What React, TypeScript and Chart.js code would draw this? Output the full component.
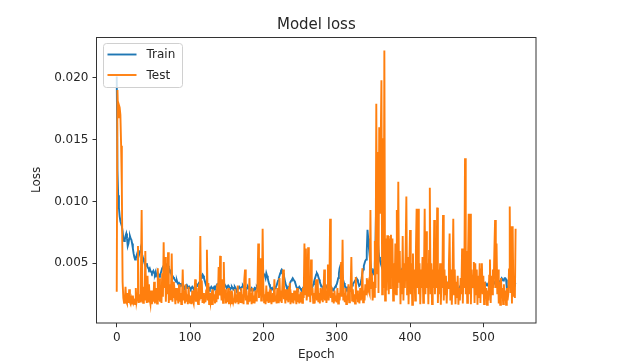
import React, { useEffect, useRef } from "react";
import { Chart, registerables } from "chart.js";

Chart.register(...registerables);

const FONT = "'DejaVu Sans', 'Liberation Sans', sans-serif";
const TEXT_COLOR = "#262626";

const chartTitle = "Model loss";
const xAxisTitle = "Epoch";
const yAxisTitle = "Loss";
const seriesNames = ["Train", "Test"];
const seriesColors = ["#1f77b4", "#ff7f0e"];

const xTickValues = [0, 100, 200, 300, 400, 500];
const yTickValues = [0.005, 0.01, 0.015, 0.02];

// Loss values in units of 1e-5 (e.g. 190 = 0.0019), one per epoch.
const trainLossE5 = [
  2010, 1250, 1050, 950, 880, 840, 820, 800, 760, 700,
  680, 690, 720, 740, 700, 640, 660, 700, 720, 700,
  690, 660, 620, 580, 550, 530, 540, 560, 580, 570,
  560, 580, 600, 610, 590, 560, 540, 520, 500, 490,
  480, 500, 470, 460, 450, 460, 440, 430, 420, 430,
  440, 420, 410, 430, 400, 410, 420, 400, 390, 410,
  420, 440, 460, 470, 480, 490, 500, 490, 480, 470,
  480, 460, 450, 440, 420, 410, 400, 390, 380, 370,
  360, 350, 360, 340, 330, 340, 330, 320, 330, 320,
  310, 320, 310, 300, 310, 320, 300, 310, 300, 310,
  300, 290, 300, 310, 300, 290, 300, 310, 320, 330,
  320, 330, 340, 350, 360, 380, 400, 410, 400, 380,
  360, 340, 320, 310, 300, 310, 300, 290, 300, 310,
  300, 290, 300, 310, 300, 310, 320, 330, 320, 310,
  320, 330, 320, 310, 320, 330, 340, 330, 320, 310,
  300, 310, 320, 310, 300, 290, 300, 310, 300, 290,
  300, 310, 300, 290, 280, 290, 300, 310, 300, 290,
  300, 310, 320, 310, 300, 310, 300, 290, 300, 310,
  300, 290, 280, 290, 300, 290, 280, 290, 300, 290,
  300, 310, 300, 290, 300, 320, 340, 360, 380, 400,
  420, 410, 400, 380, 420, 400, 380, 350, 330, 310,
  300, 290, 300, 290, 280, 290, 300, 310, 320, 340,
  360, 380, 400, 420, 440, 450, 440, 420, 400, 370,
  340, 320, 300, 290, 300, 310, 330, 350, 360, 370,
  380, 370, 360, 350, 330, 310, 300, 290, 300, 310,
  300, 290, 280, 290, 300, 310, 300, 290, 280, 290,
  300, 290, 300, 310, 300, 290, 300, 310, 330, 350,
  370, 390, 410, 420, 410, 390, 370, 350, 330, 320,
  310, 300, 310, 320, 330, 320, 310, 300, 290, 300,
  310, 320, 310, 300, 290, 280, 290, 300, 310, 320,
  330, 350, 380, 420, 460, 480, 470, 430, 390, 360,
  340, 320, 310, 300, 290, 300, 310, 300, 290, 300,
  310, 320, 330, 340, 350, 360, 370, 380, 370, 350,
  330, 320, 330, 350, 380, 420, 450, 480, 500, 520,
  530, 600, 770, 700, 620, 560, 500, 460, 440, 430,
  420, 450, 500, 700, 1050, 900, 700, 600, 550, 520,
  500, 480, 520, 560, 600, 580, 550, 520, 500, 480,
  470, 460, 450, 460, 470, 460, 450, 440, 430, 440,
  450, 460, 470, 460, 450, 440, 430, 420, 430, 440,
  430, 420, 410, 420, 430, 440, 430, 420, 410, 400,
  410, 420, 410, 400, 390, 400, 410, 400, 390, 380,
  390, 400, 390, 380, 370, 360, 350, 360, 370, 380,
  390, 400, 390, 380, 370, 380, 390, 400, 390, 380,
  370, 360, 350, 360, 370, 360, 350, 340, 350, 360,
  350, 340, 330, 340, 350, 360, 350, 340, 330, 320,
  330, 340, 330, 320, 310, 320, 330, 340, 350, 340,
  330, 320, 310, 300, 290, 280, 290, 300, 310, 320,
  330, 340, 350, 360, 350, 340, 330, 320, 330, 340,
  350, 360, 370, 360, 350, 340, 330, 320, 330, 340,
  330, 320, 310, 320, 330, 340, 330, 320, 310, 300,
  310, 320, 330, 340, 330, 320, 330, 340, 330, 320,
  310, 300, 310, 320, 330, 340, 350, 340, 330, 320,
  330, 340, 350, 360, 370, 380, 370, 360, 370, 380,
  380, 370, 300, 310, 300, 310, 320, 330, 340, 330,
  320, 310, 320, 330, 340,
];

const testLossE5 = [
  270, 1900, 1680, 1780, 1760, 1700, 1450, 1100, 350, 220,
  180, 200, 310, 190, 175, 260, 180, 290, 185, 170,
  210, 175, 240, 180, 195, 170, 300, 185, 220, 640,
  180, 250, 190, 420, 930, 230, 180, 310, 200, 600,
  250, 180, 400, 190, 330, 210, 170, 280, 170, 260,
  190, 350, 175, 240, 300, 175, 460, 200, 380, 190,
  270, 180, 420, 230, 670, 300, 550, 190, 400, 250,
  590, 180, 330, 210, 280, 580, 190, 350, 220, 260,
  170, 300, 200, 240, 175, 330, 190, 260, 170, 210,
  450, 200, 280, 175, 330, 190, 250, 170, 310, 200,
  180, 240, 170, 280, 200, 175, 260, 370, 190, 300,
  210, 170, 330, 200, 720, 220, 360, 180, 260, 175,
  240, 185, 280, 610, 200, 340, 170, 260, 185, 230,
  170, 290, 200, 250, 175, 280, 185, 330, 210, 470,
  240, 560, 300, 200, 370, 180, 510, 230, 290, 175,
  260, 185, 300, 170, 240, 200, 280, 170, 230, 185,
  210, 290, 175, 250, 185, 320, 170, 230, 270, 180,
  300, 185, 250, 170, 370, 450, 200, 280, 175, 240,
  185, 380, 200, 260, 170, 300, 185, 240, 175, 280,
  200, 250, 330, 660, 220, 300, 540, 200, 260, 780,
  300, 185, 250, 170, 320, 200, 270, 180, 240, 185,
  290, 170, 220, 260, 185, 370, 200, 240, 175, 300,
  185, 260, 380, 200, 280, 180, 330, 450, 210, 250,
  175, 290, 200, 240, 185, 300, 340, 170, 230, 185,
  260, 175, 280, 200, 230, 170, 300, 185, 250, 175,
  230, 185, 270, 180, 300, 220, 660, 250, 620, 200,
  280, 630, 230, 350, 185, 530, 240, 300, 180, 260,
  175, 290, 370, 200, 370, 185, 260, 175, 300, 200,
  250, 185, 280, 450, 200, 330, 180, 260, 490, 200,
  300, 860, 220, 310, 185, 260, 175, 280, 200, 240,
  185, 300, 175, 260, 200, 280, 510, 230, 690, 200,
  260, 185, 300, 170, 240, 200, 330, 185, 270, 300,
  550, 200, 290, 185, 250, 175, 390, 210, 280, 185,
  240, 175, 300, 200, 260, 460, 185, 280, 200, 330,
  250, 380, 290, 330, 270, 250, 930, 300, 420, 200,
  350, 230, 680, 300, 1790, 420, 1400, 260, 1600, 900,
  1450, 1980, 250, 1510, 300, 2220, 200, 700, 280, 720,
  720, 250, 700, 300, 730, 400, 700, 200, 500, 250,
  660, 250, 930, 300, 1160, 350, 600, 170, 450, 250,
  720, 200, 500, 300, 600, 1040, 250, 550, 170, 450,
  770, 250, 500, 165, 580, 300, 450, 200, 600, 940,
  300, 940, 250, 500, 170, 450, 300, 550, 180, 400,
  940, 250, 760, 300, 500, 170, 600, 1110, 250, 500,
  170, 450, 300, 850, 250, 500, 300, 950, 180, 450,
  250, 500, 165, 400, 300, 890, 200, 450, 250, 400,
  175, 350, 300, 490, 740, 200, 450, 165, 400, 860,
  250, 450, 170, 350, 220, 400, 165, 300, 200, 380,
  250, 620, 175, 500, 300, 1350, 250, 600, 180, 500,
  900, 250, 900, 170, 450, 300, 400, 510, 180, 500,
  250, 450, 165, 400, 220, 500, 180, 450, 500, 250,
  400, 170, 350, 220, 300, 165, 280, 200, 400, 530,
  180, 400, 250, 450, 300, 600, 850, 300, 660, 250,
  450, 175, 350, 165, 380, 250, 300, 170, 330, 200,
  280, 165, 300, 200, 250, 450, 960, 260, 800, 175,
  800, 230, 300, 220, 780,
];

const epochs = trainLossE5.map((_, i) => i);

const framePlugin = {
  id: "frame",
  afterDraw(chart: any) {
    const { ctx, chartArea } = chart;
    ctx.save();
    ctx.strokeStyle = "#333";
    ctx.lineWidth = 1;
    ctx.strokeRect(
      Math.round(chartArea.left) - 0.5,
      Math.round(chartArea.top) + 0.5,
      Math.round(chartArea.right) - Math.round(chartArea.left) + 0.5,
      Math.round(chartArea.bottom) - Math.round(chartArea.top) - 0.5
    );
    ctx.restore();
  },
};

const legendPlugin = {
  id: "mplLegend",
  afterDatasetsDraw(chart: any) {
    const { ctx, chartArea } = chart;
    const x0 = chartArea.left + 6.5;
    const y0 = chartArea.top + 6.5;
    const w = 79;
    const h = 44;
    ctx.save();
    ctx.beginPath();
    if ((ctx as any).roundRect) {
      (ctx as any).roundRect(x0, y0, w, h, 3);
    } else {
      ctx.rect(x0, y0, w, h);
    }
    ctx.fillStyle = "rgba(255,255,255,0.8)";
    ctx.fill();
    ctx.strokeStyle = "#d0d0d0";
    ctx.lineWidth = 1;
    ctx.stroke();
    ctx.font = `12px ${FONT}`;
    ctx.textBaseline = "middle";
    ctx.textAlign = "left";
    seriesNames.forEach((name, i) => {
      const yy = y0 + 11 + i * 20.5;
      ctx.beginPath();
      ctx.moveTo(x0 + 4, yy);
      ctx.lineTo(x0 + 33, yy);
      ctx.strokeStyle = seriesColors[i];
      ctx.lineWidth = 1.9;
      ctx.stroke();
      ctx.fillStyle = TEXT_COLOR;
      ctx.fillText(name, x0 + 43, yy + 0.5);
    });
    ctx.restore();
  },
};

export default function App() {
  const canvasRef = useRef<HTMLCanvasElement | null>(null);

  useEffect(() => {
    const canvas = canvasRef.current;
    if (!canvas) return;
    const trainData = epochs.map((e, i) => ({ x: e, y: trainLossE5[i] / 1e5 }));
    const testData = epochs.map((e, i) => ({ x: e, y: testLossE5[i] / 1e5 }));
    const tickFont = { family: FONT, size: 12 };
    const chart = new Chart(canvas, {
      type: "line",
      data: {
        datasets: [
          {
            label: seriesNames[0],
            data: trainData,
            borderColor: seriesColors[0],
            backgroundColor: seriesColors[0],
            borderWidth: 1.9,
            pointRadius: 0,
            tension: 0,
            order: 2,
          },
          {
            label: seriesNames[1],
            data: testData,
            borderColor: seriesColors[1],
            backgroundColor: seriesColors[1],
            borderWidth: 1.9,
            pointRadius: 0,
            tension: 0,
            order: 1,
          },
        ],
      },
      options: {
        animation: false,
        responsive: false,
        maintainAspectRatio: false,
        devicePixelRatio: 1,
        events: [],
        layout: { padding: { left: 0, right: 92.3, top: 0, bottom: 0 } },
        plugins: {
          legend: { display: false },
          tooltip: { enabled: false },
          title: {
            display: true,
            text: chartTitle,
            fullSize: false,
            color: TEXT_COLOR,
            font: { family: FONT, size: 15, weight: "normal" },
            padding: { top: 15.8, bottom: 3.2 },
          },
        },
        scales: {
          x: {
            type: "linear",
            min: -26.9,
            max: 571.4,
            afterBuildTicks: (s: any) => {
              s.ticks = xTickValues.map((v) => ({ value: v }));
            },
            afterFit: (s: any) => {
              s.height = 39.3;
            },
            ticks: {
              font: tickFont,
              color: TEXT_COLOR,
              padding: 3,
              maxRotation: 0,
              autoSkip: false,
              callback: (v: any) => String(v),
            },
            grid: {
              display: true,
              drawOnChartArea: false,
              drawTicks: true,
              tickLength: 4.5,
              color: "#333",
              lineWidth: 1,
            },
            border: { display: false },
            title: {
              display: true,
              text: xAxisTitle,
              color: TEXT_COLOR,
              font: { family: FONT, size: 12 },
              padding: { top: 0, bottom: 0 },
            },
          },
          y: {
            type: "linear",
            min: 0.0002,
            max: 0.02329,
            afterBuildTicks: (s: any) => {
              s.ticks = yTickValues.map((v) => ({ value: v }));
            },
            afterFit: (s: any) => {
              s.width = 97;
            },
            ticks: {
              font: tickFont,
              color: TEXT_COLOR,
              padding: 4,
              autoSkip: false,
              callback: (v: any) => Number(v).toFixed(3),
            },
            grid: {
              display: true,
              drawOnChartArea: false,
              drawTicks: true,
              tickLength: 4.5,
              color: "#333",
              lineWidth: 1,
            },
            border: { display: false },
            title: {
              display: true,
              text: yAxisTitle,
              color: TEXT_COLOR,
              font: { family: FONT, size: 12 },
              padding: { top: 30, bottom: 0 },
            },
          },
        },
      },
      plugins: [framePlugin, legendPlugin],
    } as any);
    return () => chart.destroy();
  }, []);

  return (
    <div style={{ position: "absolute", left: 0, top: 0, width: 628, height: 362, background: "#fff" }}>
      <canvas ref={canvasRef} width={628} height={362} style={{ width: 628, height: 362, display: "block" }} />
    </div>
  );
}
